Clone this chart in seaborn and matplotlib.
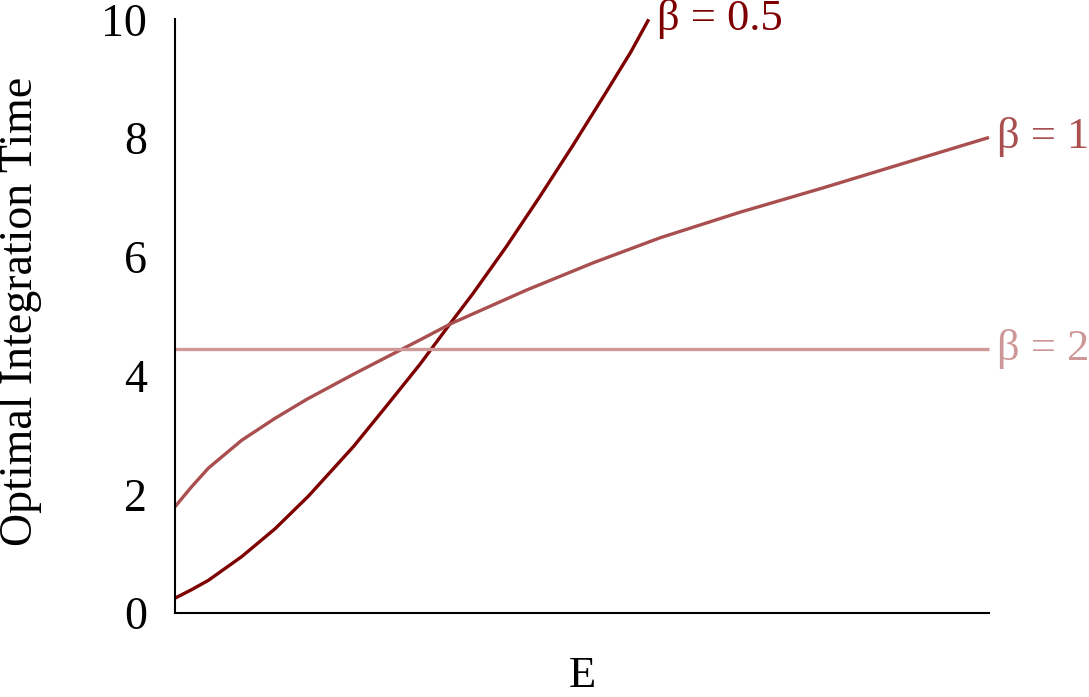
import matplotlib
matplotlib.use("Agg")
import matplotlib.pyplot as plt
import seaborn as sns
import pandas as pd

# Data (x in arbitrary E units 0..10)
x_b05 = [0.00, 0.20, 0.41, 0.82, 1.23, 1.64, 2.19, 2.60, 3.01, 3.40, 3.66, 4.07, 4.48, 4.89, 5.30, 5.60, 5.82]
y_b05 = [0.25, 0.39, 0.55, 0.95, 1.42, 1.97, 2.80, 3.49, 4.19, 4.91, 5.38, 6.17, 7.01, 7.88, 8.78, 9.45, 10.0]

x_b1 = [0.00, 0.20, 0.41, 0.82, 1.23, 1.62, 2.19, 2.60, 3.01, 3.40, 4.32, 5.14, 5.96, 6.94, 7.96, 8.99, 10.0]
y_b1 = [1.79, 2.12, 2.44, 2.91, 3.28, 3.60, 4.02, 4.31, 4.60, 4.88, 5.44, 5.90, 6.32, 6.75, 7.16, 7.59, 8.01]

x_b2 = [0.0, 10.0]
y_b2 = [4.45, 4.45]

labels = ["β = 0.5", "β = 1", "β = 2"]
colors = ["#7f0000", "#a94f4f", "#cf9898"]
yticks = [0, 2, 4, 6, 8, 10]

sns.set_style("white")
plt.rcParams["font.family"] = ["Liberation Serif", "DejaVu Serif"]
plt.rcParams["text.color"] = "black"
plt.rcParams["axes.labelcolor"] = "black"
plt.rcParams["ytick.color"] = "black"

fig = plt.figure(figsize=(10.89, 6.97), dpi=100)
ax = fig.add_axes([175/1089, 1 - 613/697, (989-175)/1089, (613-19.3)/697])

series = [(x_b05, y_b05), (x_b1, y_b1), (x_b2, y_b2)]
for (xs, ys), lab, col in zip(series, labels, colors):
    df = pd.DataFrame({"E": xs, "T": ys})
    sns.lineplot(data=df, x="E", y="T", ax=ax, color=col, linewidth=2.4,
                 clip_on=False, solid_capstyle="butt")
    ax.text(xs[-1] + 0.1, ys[-1], lab, color=col, fontsize=32,
            ha="left", va="center", clip_on=False)

ax.set_xlim(0, 10)
ax.set_ylim(0, 10)
ax.set_yticks(yticks)
ax.set_yticklabels([str(t) for t in yticks])
ax.set_xticks([])
ax.tick_params(axis="y", length=0, pad=20, labelsize=33, labelcolor="black")
ax.set_xlabel("E", fontsize=32, labelpad=31)
ax.set_ylabel("Optimal Integration Time", fontsize=33)
ax.yaxis.set_label_coords(-0.163, 0.508)

for s in ["top", "right"]:
    ax.spines[s].set_visible(False)
for s in ["left", "bottom"]:
    ax.spines[s].set_color("black")
    ax.spines[s].set_linewidth(1.5)

fig.savefig("out.png", dpi=100)
